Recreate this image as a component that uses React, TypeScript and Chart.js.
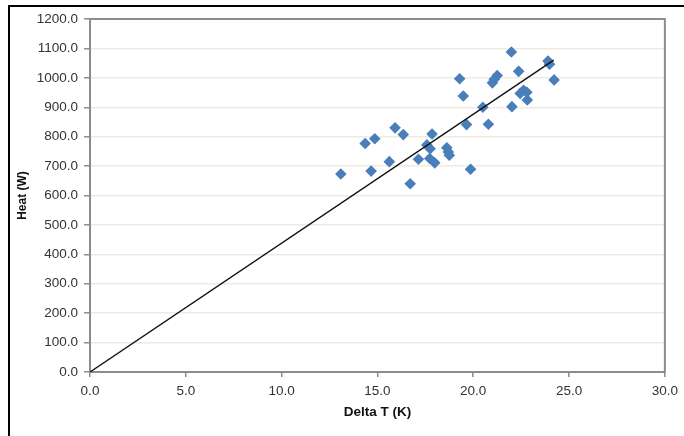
import React, { useEffect, useRef } from "react";
import { Chart, registerables } from "chart.js";

Chart.register(...registerables);

const deltaT = [
  13.09, 14.36, 14.86, 14.67, 15.62, 15.92, 16.35, 16.71, 17.14, 17.58,
  17.85, 17.75, 17.73, 17.99, 18.62, 18.7, 18.75, 19.29, 19.48, 19.65,
  19.86, 20.5, 20.79, 21.0, 21.1, 21.25, 21.99, 22.02, 22.37, 22.45,
  22.63, 22.8, 22.82, 23.9, 23.98, 24.22,
];
const heat = [
  673, 777, 793, 683, 715, 830, 807, 640, 723, 772,
  809, 759, 726, 711, 762, 748, 737, 997, 938, 841,
  689, 900, 842, 983, 995, 1008, 1088, 902, 1022, 947,
  958, 951, 925, 1057, 1046, 993,
];
const fitX = [0, 24.2];
const fitY = [0, 1060];

const xTitle = "Delta T (K)";
const yTitle = "Heat (W)";

const frameBorder = {
  id: "frameBorder",
  beforeDatasetsDraw(chart: any) {
    const { ctx, chartArea } = chart;
    ctx.save();
    ctx.strokeStyle = "#8c8c8c";
    ctx.lineWidth = 2;
    ctx.strokeRect(chartArea.left, chartArea.top, chartArea.right - chartArea.left, chartArea.bottom - chartArea.top);
    ctx.restore();
  },
};

export default function App() {
  const ref = useRef<HTMLCanvasElement>(null);
  useEffect(() => {
    const canvas = ref.current!;
    const points = deltaT.map((x, i) => ({ x, y: heat[i] }));
    const fit = fitX.map((x, i) => ({ x, y: fitY[i] }));
    const chart = new Chart(canvas, {
      type: "scatter",
      data: {
        datasets: [
          {
            type: "line",
            data: fit,
            borderColor: "#111",
            borderWidth: 1.4,
            pointRadius: 0,
            fill: false,
          } as any,
          {
            data: points,
            pointStyle: "rectRot",
            pointRadius: 5.8,
            pointBackgroundColor: "#4a7ebb",
            pointBorderColor: "#4a7ebb",
            pointBorderWidth: 0,
          },
        ],
      },
      options: {
        animation: false,
        responsive: false,
        maintainAspectRatio: false,
        layout: { padding: { left: 10, top: 19, right: 16, bottom: 10 } },
        plugins: { legend: { display: false }, tooltip: { enabled: false } },
        scales: {
          x: {
            type: "linear",
            min: 0,
            max: 30,
            afterFit: (s: any) => { s.height = 54; },
            ticks: {
              stepSize: 5,
              color: "#333",
              font: { family: "'Liberation Sans', Arial, sans-serif", size: 13.5 },
              padding: 6,
              callback: (v: any) => Number(v).toFixed(1),
            },
            grid: { drawOnChartArea: false, tickLength: 5, color: "#8c8c8c", lineWidth: 1.5 },
            border: { display: true, color: "#8c8c8c", width: 2 },
            title: {
              display: true,
              text: xTitle,
              color: "#111",
              font: { family: "'Liberation Sans', Arial, sans-serif", size: 13.5, weight: "bold" },
              padding: { top: 0, bottom: 6 },
            },
          },
          y: {
            type: "linear",
            min: 0,
            max: 1200,
            afterFit: (s: any) => { s.width = 80; },
            ticks: {
              stepSize: 100,
              color: "#333",
              font: { family: "'Liberation Sans', Arial, sans-serif", size: 13.5 },
              padding: 6,
              callback: (v: any) => Number(v).toFixed(1),
            },
            grid: { color: "#efebe1", lineWidth: 1.5, tickLength: 6, tickColor: "#8c8c8c" },
            border: { display: true, color: "#8c8c8c", width: 2 },
            title: {
              display: true,
              text: yTitle,
              color: "#111",
              font: { family: "'Liberation Sans', Arial, sans-serif", size: 12, weight: "bold" },
              padding: { top: 5, bottom: 0 },
            },
          },
        },
      },
      plugins: [frameBorder],
    });
    return () => chart.destroy();
  }, []);
  return (
    <div>
      <canvas
        ref={ref}
        width={684}
        height={436}
        style={{ position: "fixed", left: 0, top: 0, width: 684, height: 436 }}
      />
      <div
        style={{
          position: "fixed",
          left: 8,
          top: 5,
          width: 720,
          height: 480,
          border: "2px solid #000",
          pointerEvents: "none",
        }}
      />
    </div>
  );
}
